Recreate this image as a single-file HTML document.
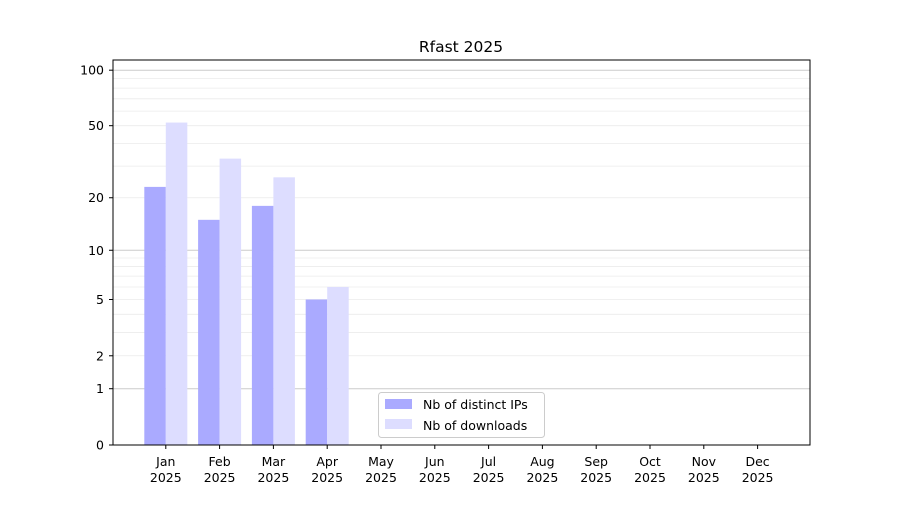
<!DOCTYPE html>
<html><head><meta charset="utf-8"><style>body{margin:0;background:#fff}</style></head><body>
<svg width="900" height="500" xmlns="http://www.w3.org/2000/svg" font-family="DejaVu Sans, Liberation Sans, sans-serif">
<rect width="900" height="500" fill="#fff"/>
<g id="grid"></g>
<g id="bars"></g>
<rect x="113" y="60" width="697" height="385" fill="none" stroke="#000" stroke-width="1"/>
<g id="ticks" font-size="12.5"></g>
<text x="461" y="52" font-size="15.5" text-anchor="middle">Rfast 2025</text>
<g>
<rect x="378.5" y="392.5" width="166" height="45" rx="3" fill="#fff" fill-opacity="0.8" stroke="#ccc"/>
<rect x="385" y="399" width="27" height="10" fill="#aaaaff"/>
<text x="423" y="409" font-size="12.5">Nb of distinct IPs</text>
<rect x="385" y="419" width="27" height="10" fill="#ddddff"/>
<text x="423" y="430" font-size="12.5">Nb of downloads</text>
</g>
<script>
var ns="http://www.w3.org/2000/svg";
function Y(v){return 445-187*Math.log10(1+v);}
function el(p,t,a,txt){var e=document.createElementNS(ns,t);for(var k in a)e.setAttribute(k,a[k]);if(txt!==undefined)e.textContent=txt;document.getElementById(p).appendChild(e);return e;}
var minors=[2,3,4,5,6,7,8,9,20,30,40,50,60,70,80,90];
minors.forEach(function(v){var y=Y(v);el("grid","line",{x1:113,x2:810,y1:y,y2:y,stroke:"#ebebeb","stroke-width":0.8});});
[1,10,100].forEach(function(v){var y=Y(v);el("grid","line",{x1:113,x2:810,y1:y,y2:y,stroke:"#cccccc","stroke-width":1});});
var ips=[23,15,18,5],dl=[52,33,26,6];
var months=["Jan","Feb","Mar","Apr","May","Jun","Jul","Aug","Sep","Oct","Nov","Dec"];
for(var i=0;i<12;i++){
 var c=165.8+i*53.8;
 if(i<4){
  el("bars","rect",{x:c-21.5,y:Y(ips[i]),width:21.5,height:445-Y(ips[i]),fill:"#aaaaff"});
  el("bars","rect",{x:c,y:Y(dl[i]),width:21.5,height:445-Y(dl[i]),fill:"#ddddff"});
 }
 el("ticks","line",{x1:c,x2:c,y1:445,y2:449,stroke:"#000"});
 el("ticks","text",{x:c,y:466,"text-anchor":"middle"},months[i]);
 el("ticks","text",{x:c,y:482,"text-anchor":"middle"},"2025");
}
[0,1,2,5,10,20,50,100].forEach(function(v){var y=Y(v);
 el("ticks","line",{x1:109,x2:113,y1:y,y2:y,stroke:"#000"});
 el("ticks","text",{x:104,y:y+4.5,"text-anchor":"end"},String(v));});
</script>
</svg>
</body></html>
